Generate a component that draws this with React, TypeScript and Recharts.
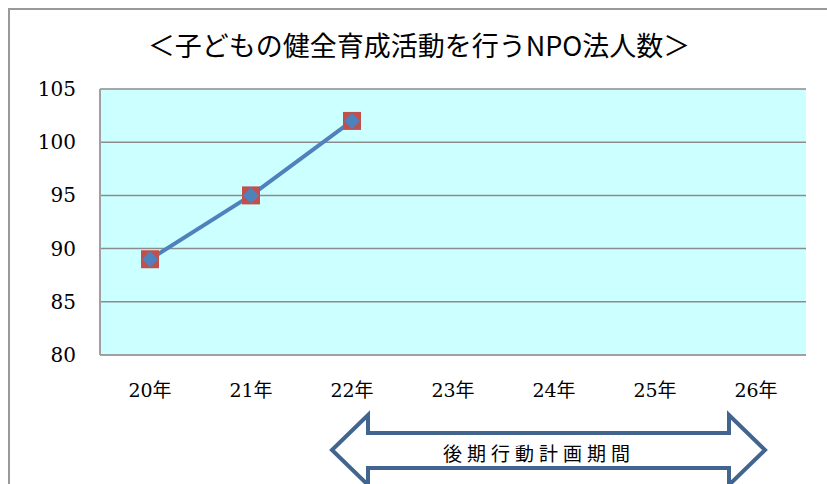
import React from "react";
import { LineChart, Line, XAxis, YAxis, CartesianGrid } from "recharts";

const years = ["20年", "21年", "22年", "23年", "24年", "25年", "26年"];
const npoCounts: (number | null)[] = [89, 95, 102, null, null, null, null];
const yTicks = [80, 85, 90, 95, 100, 105];

const data = years.map((year, i) => ({ year, count: npoCounts[i] }));

const serif = "DejaVu Serif, Liberation Serif, Noto Sans CJK JP, serif";
const gothic = "Noto Sans CJK JP, sans-serif";

function MarkerDot(props: any) {
  const { cx, cy, value } = props;
  if (value == null || cx == null || cy == null) return null;
  const s = 9;
  const d = 8;
  return (
    <g>
      <rect x={cx - s} y={cy - s} width={s * 2} height={s * 2} fill="#C0504D" />
      <polygon
        points={`${cx},${cy - d} ${cx + d},${cy} ${cx},${cy + d} ${cx - d},${cy}`}
        fill="#4F81BD"
      />
    </g>
  );
}

function XTick(props: any) {
  const { x, y, payload } = props;
  return (
    <text x={x} y={y + 9} textAnchor="middle" dominantBaseline="central" fontFamily={serif} fontSize={19} fill="#000">
      {payload.value}
    </text>
  );
}

function YTick(props: any) {
  const { x, y, payload } = props;
  return (
    <text x={x} y={y} textAnchor="end" dominantBaseline="central" fontFamily={serif} fontSize={20} fill="#000">
      {payload.value}
    </text>
  );
}

export default function App() {
  return (
    <div style={{ position: "absolute", left: 0, top: 0, width: 827, height: 484, background: "#fff", overflow: "hidden" }}>
      <div
        style={{
          position: "absolute",
          left: 8,
          top: 8,
          width: 900,
          height: 600,
          border: "2px solid #999",
          boxSizing: "border-box",
        }}
      />
      <div
        style={{
          position: "absolute",
          left: 0,
          top: 27,
          width: 838,
          textAlign: "center",
          fontFamily: gothic,
          fontSize: 27,
          lineHeight: "36px",
          color: "#000",
        }}
      >
        ＜子どもの健全育成活動を行うNPO法人数＞
      </div>
      <div style={{ position: "absolute", left: 0, top: 0 }}>
        <LineChart width={827} height={484} data={data} margin={{ top: 89, right: 21, left: 0, bottom: 89 }}>
          <CartesianGrid vertical={false} stroke="#8c8c8c" strokeWidth={1.5} fill="#CCFFFF" fillOpacity={1} />
          <XAxis
            dataKey="year"
            height={40}
            padding={{ left: 50, right: 50 }}
            axisLine={{ stroke: "#a0a0a0", strokeWidth: 2 }}
            tickLine={false}
            tickMargin={20}
            tick={XTick}
            interval={0}
          />
          <YAxis
            width={100}
            domain={[80, 105]}
            ticks={yTicks}
            axisLine={{ stroke: "#a0a0a0", strokeWidth: 2 }}
            tickLine={false}
            tickMargin={18}
            tick={YTick}
          />
          <YAxis
            yAxisId="right"
            orientation="right"
            width={0}
            domain={[80, 105]}
            tick={false}
            tickLine={false}
            axisLine={{ stroke: "#b0b0b0", strokeWidth: 2 }}
          />
          <Line
            type="linear"
            dataKey="count"
            stroke="#4F81BD"
            strokeWidth={4}
            dot={<MarkerDot />}
            activeDot={false}
            connectNulls={false}
            isAnimationActive={false}
          />
        </LineChart>
      </div>
      <svg style={{ position: "absolute", left: 0, top: 0 }} width={827} height={484}>
        <polygon
          points="332,450 368,415 368,433 729,433 729,415 765,450 729,485 729,468 368,468 368,485"
          fill="#fff"
          stroke="#41658F"
          strokeWidth={4}
          strokeLinejoin="miter"
        />
        <text
          x={539}
          y={452}
          textAnchor="middle"
          dominantBaseline="central"
          fontFamily={gothic}
          fontSize={19}
          letterSpacing={5}
          fill="#000"
        >
          後期行動計画期間
        </text>
      </svg>
    </div>
  );
}
